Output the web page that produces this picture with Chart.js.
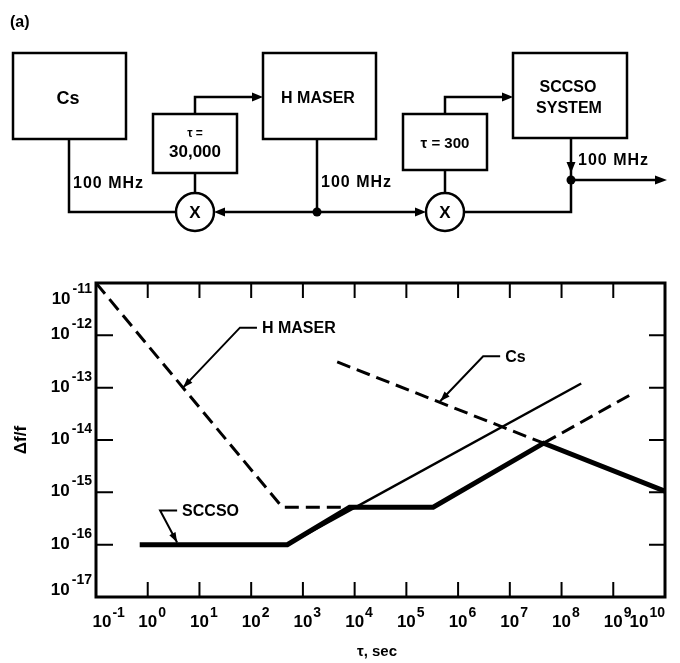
<!DOCTYPE html>
<html>
<head>
<meta charset="utf-8">
<script src="https://cdn.jsdelivr.net/npm/chart.js@4.4.1/dist/chart.umd.min.js"></script>
<style>
  html, body { margin: 0; padding: 0; background: #fff; }
  #wrap { position: relative; width: 680px; height: 663px; }
  #stabilityChart, #diagram { position: absolute; left: 0; top: 0; }
  #diagram text { font-family: 'Liberation Sans', Arial, sans-serif; font-weight: bold; fill: #000; }
</style>
</head>
<body>
<div id="wrap">
<canvas id="stabilityChart" width="680" height="663"></canvas>
<svg id="diagram" width="680" height="240" viewBox="0 0 680 240">
  <text x="10" y="27" font-size="16">(a)</text>
  <g fill="none" stroke="#000" stroke-width="2.5">
    <rect x="13" y="53" width="113" height="86"/>
    <rect x="263" y="53" width="113" height="86"/>
    <rect x="513" y="53" width="114" height="85"/>
    <rect x="153" y="114" width="84" height="59"/>
    <rect x="403" y="114" width="84" height="56"/>
    <circle cx="195" cy="212" r="19"/>
    <circle cx="445" cy="212" r="19"/>
    <polyline points="69,139 69,212 176,212"/>
    <polyline points="195,114 195,97 255,97"/>
    <line x1="195" y1="173" x2="195" y2="193"/>
    <line x1="317" y1="139" x2="317" y2="212"/>
    <line x1="222" y1="212" x2="418" y2="212"/>
    <polyline points="445,114 445,97 505,97"/>
    <line x1="445" y1="170" x2="445" y2="193"/>
    <polyline points="464,212 571,212 571,138"/>
    <line x1="571" y1="180" x2="657" y2="180"/>
  </g>
  <g fill="#000" stroke="none">
    <polygon points="263,97 252,92.5 252,101.5"/>
    <polygon points="513,97 502,92.5 502,101.5"/>
    <polygon points="214,212 225,207.5 225,216.5"/>
    <polygon points="426,212 415,207.5 415,216.5"/>
    <polygon points="571,173 566.5,162 575.5,162"/>
    <polygon points="667,180 655,175.5 655,184.5"/>
    <circle cx="317" cy="212" r="4.5"/>
    <circle cx="571" cy="180" r="4.5"/>
  </g>
  <text x="68" y="104" font-size="18" text-anchor="middle">Cs</text>
  <text x="318" y="103" font-size="16" text-anchor="middle">H MASER</text>
  <text x="568" y="92" font-size="16" text-anchor="middle">SCCSO</text>
  <text x="569" y="113" font-size="16" text-anchor="middle">SYSTEM</text>
  <text x="195" y="137" font-size="12" text-anchor="middle">τ =</text>
  <text x="195" y="157" font-size="17" text-anchor="middle">30,000</text>
  <text x="445" y="148" font-size="15" text-anchor="middle">τ = 300</text>
  <text x="195" y="218" font-size="17" text-anchor="middle">X</text>
  <text x="445" y="218" font-size="17" text-anchor="middle">X</text>
  <text x="73" y="188" font-size="16" letter-spacing="1">100 MHz</text>
  <text x="321" y="187" font-size="16" letter-spacing="1">100 MHz</text>
  <text x="578" y="165" font-size="16" letter-spacing="1">100 MHz</text>
  <text x="10" y="262" font-size="16">(b)</text>
</svg>
</div>
<script>
// averaging time tau (s) against fractional frequency stability df/f
const maserTau = [0.1, 400, 8000];
const maserStab = [1e-11, 5.2e-16, 5.2e-16];
const cesiumTau = [4600, 4.5e7];
const cesiumStab = [3.1e-13, 8.7e-15];
const sccsoTau = [0.7, 500, 8000, 3.3e5, 4.5e7, 1e10];
const sccsoStab = [1e-16, 1e-16, 5.2e-16, 5.2e-16, 8.7e-15, 1.05e-15];
const freeTau = [500, 2.4e8];
const freeStab = [1e-16, 1.2e-13];
const lockedTau = [4.5e7, 2.3e9];
const lockedStab = [8.7e-15, 7.6e-14];

const tauExponents = [-1, 0, 1, 2, 3, 4, 5, 6, 7, 8, 9, 10];
const stabExponents = [-11, -12, -13, -14, -15, -16, -17];

const FONT = "'Liberation Sans', Arial, sans-serif";

function points(xs, ys) {
    return xs.map((x, i) => ({ x: x, y: ys[i] }));
}

function arrowHead(ctx, fromX, fromY, tipX, tipY, len, half) {
    const a = Math.atan2(tipY - fromY, tipX - fromX);
    ctx.beginPath();
    ctx.moveTo(tipX, tipY);
    ctx.lineTo(tipX - len * Math.cos(a) + half * Math.sin(a), tipY - len * Math.sin(a) - half * Math.cos(a));
    ctx.lineTo(tipX - len * Math.cos(a) - half * Math.sin(a), tipY - len * Math.sin(a) + half * Math.cos(a));
    ctx.closePath();
    ctx.fill();
}

// frame, inward ticks, power-of-ten labels and callouts
const decorations = {
    id: 'decorations',
    afterDraw(chart) {
        const ctx = chart.ctx;
        const area = chart.chartArea;
        const xs = chart.scales.x;
        const ys = chart.scales.y;
        ctx.save();
        ctx.strokeStyle = '#000';
        ctx.fillStyle = '#000';

        ctx.lineWidth = 3;
        ctx.strokeRect(area.left, area.top, area.right - area.left, area.bottom - area.top);

        ctx.lineWidth = 2;
        ctx.beginPath();
        tauExponents.slice(1, -1).forEach(e => {
            const px = xs.getPixelForValue(Math.pow(10, e));
            ctx.moveTo(px, area.top); ctx.lineTo(px, area.top + 15);
            ctx.moveTo(px, area.bottom); ctx.lineTo(px, area.bottom - 15);
        });
        stabExponents.slice(1, -1).forEach(e => {
            const py = ys.getPixelForValue(Math.pow(10, e));
            ctx.moveTo(area.left, py); ctx.lineTo(area.left + 17, py);
            ctx.moveTo(area.right, py); ctx.lineTo(area.right - 16, py);
        });
        ctx.stroke();

        const baseFont = 'bold 17px ' + FONT;
        const expFont = 'bold 14px ' + FONT;

        ctx.textBaseline = 'alphabetic';
        tauExponents.forEach((e, i) => {
            let cx = xs.getPixelForValue(Math.pow(10, e));
            if (i === 0) cx += 6;
            if (i === tauExponents.length - 1) cx -= 26;
            ctx.font = baseFont;
            const bw = ctx.measureText('10').width;
            ctx.textAlign = 'left';
            ctx.fillText('10', cx - bw / 2, area.bottom + 30);
            ctx.font = expFont;
            ctx.fillText(String(e), cx + bw / 2 + 1, area.bottom + 20);
        });

        stabExponents.forEach((e, i) => {
            let cy = ys.getPixelForValue(Math.pow(10, e));
            if (i === 0) cy += 17;
            if (i === stabExponents.length - 1) cy -= 6;
            ctx.font = expFont;
            const ew = ctx.measureText(String(e)).width + 2;
            ctx.font = baseFont;
            const bw = ctx.measureText('10').width;
            const right = area.left - 4;
            ctx.textAlign = 'left';
            ctx.fillText('10', right - ew - bw, cy + 4);
            ctx.font = expFont;
            ctx.fillText(String(e), right - ew + 2, cy - 7);
        });

        // axis titles
        ctx.font = 'bold 15px ' + FONT;
        ctx.textAlign = 'center';
        ctx.fillText('τ, sec', 377, 656);
        ctx.save();
        ctx.translate(26, 440);
        ctx.rotate(-Math.PI / 2);
        ctx.font = 'bold 17px ' + FONT;
        ctx.fillText('Δf/f', 0, 0);
        ctx.restore();

        // callouts: leader from an elbow down to the curve, short bar, then the name
        const callouts = [
            { text: 'H MASER', tau: 4.8, stab: 1e-13, dx: 57, dy: -60 },
            { text: 'Cs', tau: 4.5e5, stab: 5.5e-14, dx: 43, dy: -45 },
            { text: 'SCCSO', tau: 3.7, stab: 1.1e-16, dx: -17, dy: -32 }
        ];
        ctx.lineWidth = 2;
        ctx.font = 'bold 16px ' + FONT;
        ctx.textAlign = 'left';
        ctx.textBaseline = 'middle';
        callouts.forEach(c => {
            const tx = xs.getPixelForValue(c.tau);
            const ty = ys.getPixelForValue(c.stab);
            const ex = tx + c.dx;
            const ey = ty + c.dy;
            ctx.beginPath();
            ctx.moveTo(ex + 17, ey);
            ctx.lineTo(ex, ey);
            ctx.lineTo(tx, ty);
            ctx.stroke();
            arrowHead(ctx, ex, ey, tx, ty, 10, 3.5);
            ctx.fillText(c.text, ex + 22, ey + 1);
        });

        ctx.restore();
    }
};

const lineStyle = {
    borderColor: '#000',
    pointRadius: 0,
    fill: false,
    tension: 0,
    borderCapStyle: 'butt',
    borderJoinStyle: 'miter'
};

new Chart(document.getElementById('stabilityChart'), {
    type: 'line',
    data: {
        datasets: [
            { ...lineStyle, label: 'H maser', data: points(maserTau, maserStab), borderWidth: 3, borderDash: [14, 7] },
            { ...lineStyle, label: 'Cs', data: points(cesiumTau, cesiumStab), borderWidth: 3, borderDash: [14, 7] },
            { ...lineStyle, label: 'SCCSO locked', data: points(lockedTau, lockedStab), borderWidth: 3, borderDash: [14, 7] },
            { ...lineStyle, label: 'SCCSO free', data: points(freeTau, freeStab), borderWidth: 2.5 },
            { ...lineStyle, label: 'SCCSO system', data: points(sccsoTau, sccsoStab), borderWidth: 5 }
        ]
    },
    options: {
        responsive: false,
        animation: false,
        layout: { padding: { left: 96, top: 283, right: 15, bottom: 66 } },
        plugins: { legend: { display: false }, tooltip: { enabled: false } },
        scales: {
            x: { type: 'logarithmic', min: 0.1, max: 1e10, display: false },
            y: { type: 'logarithmic', min: 1e-17, max: 1e-11, display: false }
        }
    },
    plugins: [decorations]
});
</script>
</body>
</html>
